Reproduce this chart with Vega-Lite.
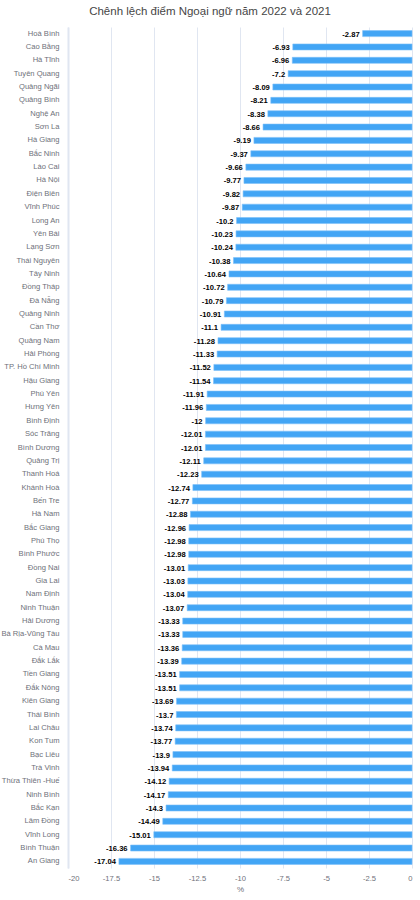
{
  "$schema": "https://vega.github.io/schema/vega-lite/v6.json",
  "autosize": {"type": "none"},
  "width": 344,
  "height": 841,
  "padding": {"left": 68, "top": 27, "right": 8, "bottom": 32},
  "background": "#ffffff",
  "config": {
    "font": "Liberation Sans",
    "view": {"stroke": null}
  },
  "title": {
    "text": "Chênh lệch điểm Ngoại ngữ năm 2022 và 2021",
    "fontSize": 11.5,
    "fontWeight": "normal",
    "color": "#464646",
    "anchor": "middle",
    "dx": -30,
    "offset": 10
  },
  "data": {
    "values": [
      {"tinh": "Hoà Bình", "chenh_lech": -2.87},
      {"tinh": "Cao Bằng", "chenh_lech": -6.93},
      {"tinh": "Hà Tĩnh", "chenh_lech": -6.96},
      {"tinh": "Tuyên Quang", "chenh_lech": -7.2},
      {"tinh": "Quảng Ngãi", "chenh_lech": -8.09},
      {"tinh": "Quảng Bình", "chenh_lech": -8.21},
      {"tinh": "Nghệ An", "chenh_lech": -8.38},
      {"tinh": "Sơn La", "chenh_lech": -8.66},
      {"tinh": "Hà Giang", "chenh_lech": -9.19},
      {"tinh": "Bắc Ninh", "chenh_lech": -9.37},
      {"tinh": "Lào Cai", "chenh_lech": -9.66},
      {"tinh": "Hà Nội", "chenh_lech": -9.77},
      {"tinh": "Điện Biên", "chenh_lech": -9.82},
      {"tinh": "Vĩnh Phúc", "chenh_lech": -9.87},
      {"tinh": "Long An", "chenh_lech": -10.2},
      {"tinh": "Yên Bái", "chenh_lech": -10.23},
      {"tinh": "Lạng Sơn", "chenh_lech": -10.24},
      {"tinh": "Thái Nguyên", "chenh_lech": -10.38},
      {"tinh": "Tây Ninh", "chenh_lech": -10.64},
      {"tinh": "Đồng Tháp", "chenh_lech": -10.72},
      {"tinh": "Đà Nẵng", "chenh_lech": -10.79},
      {"tinh": "Quảng Ninh", "chenh_lech": -10.91},
      {"tinh": "Cần Thơ", "chenh_lech": -11.1},
      {"tinh": "Quảng Nam", "chenh_lech": -11.28},
      {"tinh": "Hải Phòng", "chenh_lech": -11.33},
      {"tinh": "TP. Hồ Chí Minh", "chenh_lech": -11.52},
      {"tinh": "Hậu Giang", "chenh_lech": -11.54},
      {"tinh": "Phú Yên", "chenh_lech": -11.91},
      {"tinh": "Hưng Yên", "chenh_lech": -11.96},
      {"tinh": "Bình Định", "chenh_lech": -12},
      {"tinh": "Sóc Trăng", "chenh_lech": -12.01},
      {"tinh": "Bình Dương", "chenh_lech": -12.01},
      {"tinh": "Quảng Trị", "chenh_lech": -12.11},
      {"tinh": "Thanh Hoá", "chenh_lech": -12.23},
      {"tinh": "Khánh Hoà", "chenh_lech": -12.74},
      {"tinh": "Bến Tre", "chenh_lech": -12.77},
      {"tinh": "Hà Nam", "chenh_lech": -12.88},
      {"tinh": "Bắc Giang", "chenh_lech": -12.96},
      {"tinh": "Phú Thọ", "chenh_lech": -12.98},
      {"tinh": "Bình Phước", "chenh_lech": -12.98},
      {"tinh": "Đồng Nai", "chenh_lech": -13.01},
      {"tinh": "Gia Lai", "chenh_lech": -13.03},
      {"tinh": "Nam Định", "chenh_lech": -13.04},
      {"tinh": "Ninh Thuận", "chenh_lech": -13.07},
      {"tinh": "Hải Dương", "chenh_lech": -13.33},
      {"tinh": "Bà Rịa-Vũng Tàu", "chenh_lech": -13.33},
      {"tinh": "Cà Mau", "chenh_lech": -13.36},
      {"tinh": "Đắk Lắk", "chenh_lech": -13.39},
      {"tinh": "Tiền Giang", "chenh_lech": -13.51},
      {"tinh": "Đắk Nông", "chenh_lech": -13.51},
      {"tinh": "Kiên Giang", "chenh_lech": -13.69},
      {"tinh": "Thái Bình", "chenh_lech": -13.7},
      {"tinh": "Lai Châu", "chenh_lech": -13.74},
      {"tinh": "Kon Tum", "chenh_lech": -13.77},
      {"tinh": "Bạc Liêu", "chenh_lech": -13.9},
      {"tinh": "Trà Vinh", "chenh_lech": -13.94},
      {"tinh": "Thừa Thiên -Huế", "chenh_lech": -14.12},
      {"tinh": "Ninh Bình", "chenh_lech": -14.17},
      {"tinh": "Bắc Kạn", "chenh_lech": -14.3},
      {"tinh": "Lâm Đồng", "chenh_lech": -14.49},
      {"tinh": "Vĩnh Long", "chenh_lech": -15.01},
      {"tinh": "Bình Thuận", "chenh_lech": -16.36},
      {"tinh": "An Giang", "chenh_lech": -17.04}
    ]
  },
  "encoding": {
    "y": {
      "field": "tinh",
      "type": "nominal",
      "sort": null,
      "scale": {"paddingInner": 0.55, "paddingOuter": 0.27},
      "axis": {
        "title": null,
        "ticks": false,
        "labelFontSize": 7.6,
        "labelColor": "#6e7079",
        "labelPadding": 9,
        "labelLimit": 70,
        "domainColor": "#e0e6f1",
        "domainWidth": 2,
        "grid": false
      }
    },
    "x": {
      "field": "chenh_lech",
      "type": "quantitative",
      "scale": {"domain": [-20, 0], "nice": false},
      "axis": {
        "title": "%",
        "titleFontSize": 8,
        "titleFontWeight": "normal",
        "titleColor": "#6e7079",
        "titlePadding": 4,
        "values": [-20, -17.5, -15, -12.5, -10, -7.5, -5, -2.5, 0],
        "labelExpr": "datum.value + ''",
        "labelFontSize": 7.6,
        "labelColor": "#6e7079",
        "labelPadding": 6,
        "ticks": false,
        "domain": false,
        "grid": true,
        "gridColor": "#e0e6f1",
        "gridWidth": 1
      }
    }
  },
  "layer": [
    {
      "mark": {"type": "bar", "color": "#42a5f5", "stroke": "#7cc0f8", "strokeWidth": 0.6},
      "encoding": {"x2": {"datum": 0}}
    },
    {
      "mark": {
        "type": "text",
        "align": "right",
        "baseline": "middle",
        "dx": -3,
        "dy": 1,
        "fontSize": 7.6,
        "fontWeight": "bold",
        "color": "#000000"
      },
      "encoding": {"text": {"field": "chenh_lech", "type": "nominal"}}
    }
  ]
}
